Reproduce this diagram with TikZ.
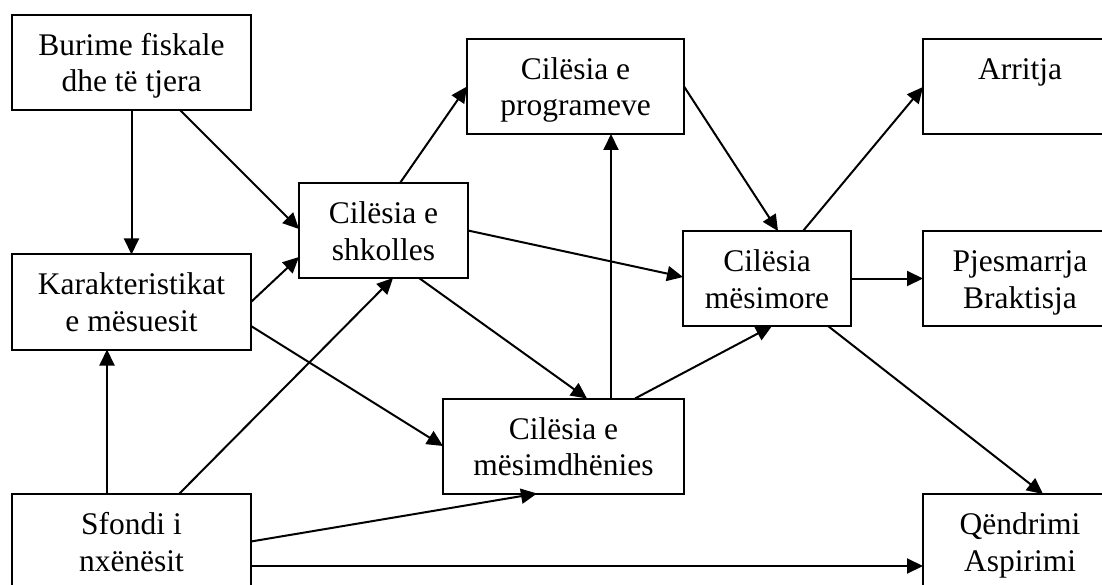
\documentclass[tikz,border=0pt]{standalone}
\usepackage{fontspec}
\setmainfont{Liberation Serif}
\usetikzlibrary{arrows.meta}
\newcommand{\bxt}[3]{\parbox[c][#2][t]{#1}{\centering\rule{0pt}{40.5pt}#3}}
\tikzset{
  box/.style={draw, line width=2pt, inner sep=0pt, outer sep=0pt,
    font=\fontsize{31.5}{36.5}\selectfont},
  arr/.style={line width=2pt, -{Triangle[length=16pt,width=15pt]}}
}
\begin{document}
\begin{tikzpicture}[x=1pt,y=-1pt]
\useasboundingbox (0,0) rectangle (1102,585);
\node[box] (burime) at (131.5,62.5) {\bxt{239pt}{95pt}{Burime fiskale\\dhe të tjera}};
\node[box] (karak) at (131.5,302) {\bxt{239pt}{95pt}{Karakteristikat\\e mësuesit}};
\node[box] (sfondi) at (131.5,541.5) {\bxt{239pt}{95pt}{Sfondi i\\nxënësit}};
\node[box] (shkolles) at (383.5,230.5) {\bxt{169pt}{95pt}{Cilësia e\\shkolles}};
\node[box] (prog) at (575.5,86.5) {\bxt{217pt}{95pt}{Cilësia e\\programeve}};
\node[box] (mdh) at (563.5,446) {\bxt{241pt}{95pt}{Cilësia e\\mësimdhënies}};
\node[box] (mesimore) at (767,278.5) {\bxt{168pt}{95pt}{Cilësia\\mësimore}};
\node[box] (arritja) at (1020,87) {\bxt{194pt}{95pt}{Arritja}};
\node[box] (pjes) at (1020,278.5) {\bxt{194pt}{95pt}{Pjesmarrja\\Braktisja}};
\node[box] (qend) at (1020,541.5) {\bxt{194pt}{95pt}{Qëndrimi\\Aspirimi}};

\draw[arr] (burime.south) -- (karak.north);
\draw[arr] ([xshift=48.5pt]burime.south) -- ([yshift=1.5pt]shkolles.west);
\draw[arr] (karak.east) -- ([yshift=-26.5pt]shkolles.west);
\draw[arr] ([yshift=-24pt]karak.east) -- (mdh.west);
\draw[arr] ([xshift=-24.5pt]sfondi.north) -- ([xshift=-24.5pt]karak.south);
\draw[arr] ([xshift=47.5pt]sfondi.north) -- ([xshift=9.5pt]shkolles.south);
\draw[arr] (sfondi.east) -- ([xshift=-26.5pt]mdh.south);
\draw[arr] ([yshift=-24.5pt]sfondi.east) -- ([yshift=-24.5pt]qend.west);
\draw[arr] ([xshift=16.5pt]shkolles.north) -- (prog.west);
\draw[arr] (shkolles.east) -- ([yshift=1.5pt]mesimore.west);
\draw[arr] ([xshift=35.5pt]shkolles.south) -- ([xshift=23.5pt]mdh.north);
\draw[arr] ([xshift=47.5pt]mdh.north) -- ([xshift=35.5pt]prog.south);
\draw[arr] ([xshift=71.5pt]mdh.north) -- ([xshift=5pt]mesimore.south);
\draw[arr] (prog.east) -- ([xshift=11pt]mesimore.north);
\draw[arr] ([xshift=36pt]mesimore.north) -- (arritja.west);
\draw[arr] (mesimore.east) -- (pjes.west);
\draw[arr] ([xshift=61pt]mesimore.south) -- ([xshift=23pt]qend.north);
\end{tikzpicture}
\end{document}
